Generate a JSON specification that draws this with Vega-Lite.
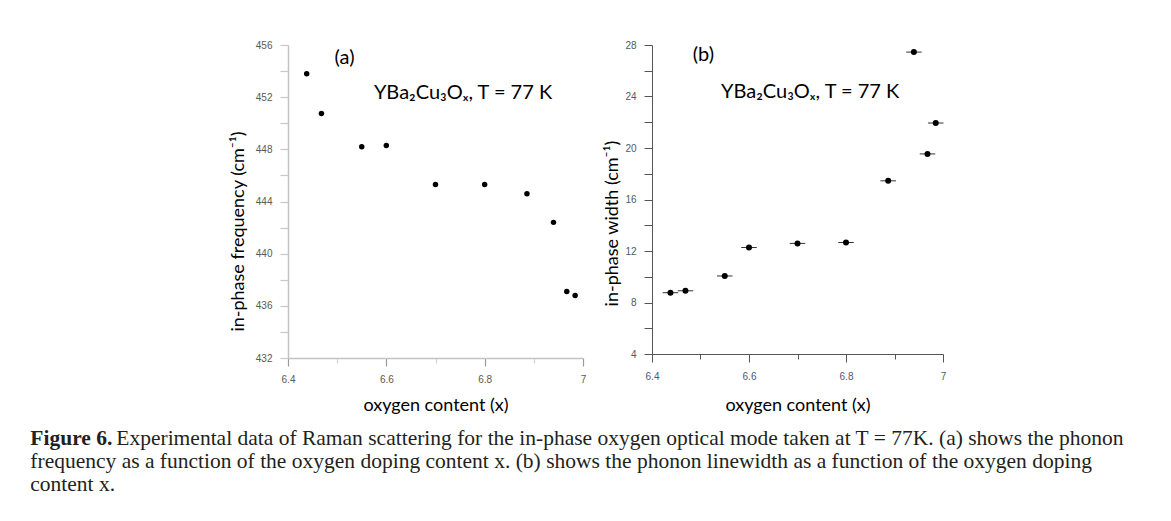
{
  "$schema": "https://vega.github.io/schema/vega-lite/v6.json",
  "background": "white",
  "padding": {"left": 30, "top": 40, "right": 5, "bottom": 5},
  "datasets": {
    "freq": [
      {"x": 6.438, "y": 453.8},
      {"x": 6.468, "y": 450.75},
      {"x": 6.55, "y": 448.2},
      {"x": 6.6, "y": 448.3},
      {"x": 6.7, "y": 445.3},
      {"x": 6.8, "y": 445.3},
      {"x": 6.886, "y": 444.6},
      {"x": 6.94, "y": 442.4},
      {"x": 6.967, "y": 437.1},
      {"x": 6.984, "y": 436.8}
    ],
    "lw": [
      {"x": 6.438, "y": 8.76, "xlo": 6.422, "xhi": 6.454},
      {"x": 6.469, "y": 8.91, "xlo": 6.453, "xhi": 6.485},
      {"x": 6.55, "y": 10.06, "xlo": 6.534, "xhi": 6.566},
      {"x": 6.6, "y": 12.27, "xlo": 6.584, "xhi": 6.616},
      {"x": 6.7, "y": 12.59, "xlo": 6.684, "xhi": 6.716},
      {"x": 6.8, "y": 12.66, "xlo": 6.784, "xhi": 6.816},
      {"x": 6.887, "y": 17.45, "xlo": 6.871, "xhi": 6.903},
      {"x": 6.94, "y": 27.45, "xlo": 6.924, "xhi": 6.956},
      {"x": 6.968, "y": 19.54, "xlo": 6.952, "xhi": 6.984},
      {"x": 6.985, "y": 21.94, "xlo": 6.969, "xhi": 7.001}
    ],
    "annA": [
      {"x": 6.515, "y": 455, "label": "(a)"},
      {"x": 6.756, "y": 452.3, "label": "YBa₂Cu₃Oₓ, T = 77 K"}
    ],
    "annB": [
      {"x": 6.506, "y": 27.2, "label": "(b)"},
      {"x": 6.726, "y": 24.36, "label": "YBa₂Cu₃Oₓ, T = 77 K"}
    ]
  },
  "title": {
    "text": "Figure 6.",
    "subtitle": [
      "\u200b\u00a0\u00a0\u00a0\u00a0\u00a0\u00a0\u00a0\u00a0\u00a0\u00a0\u00a0\u00a0\u00a0\u00a0\u00a0\u00a0Experimental data of Raman scattering for the in-phase oxygen optical mode taken at T = 77K. (a) shows the phonon",
      "frequency as a function of the oxygen doping content x. (b) shows the phonon linewidth as a function of the oxygen doping",
      "content x."
    ],
    "orient": "bottom",
    "anchor": "start",
    "frame": "bounds",
    "dx": -199,
    "offset": 14,
    "font": "Liberation Serif",
    "fontSize": 21.5,
    "fontWeight": "bold",
    "color": "#231f20",
    "subtitleFont": "Liberation Serif",
    "subtitleFontSize": 21.5,
    "subtitleColor": "#231f20",
    "subtitleLineHeight": 23,
    "subtitlePadding": -21.5
  },
  "spacing": 17,
  "hconcat": [
    {
      "width": 295,
      "height": 313,
      "encoding": {
        "x": {
          "field": "x", "type": "quantitative",
          "scale": {"domain": [6.4, 7], "nice": false, "zero": false},
          "axis": {
            "title": "oxygen content (x)",
            "values": [6.4, 6.5, 6.6, 6.7, 6.8, 6.9, 7],
            "labelExpr": "abs(datum.value*5-round(datum.value*5))<0.01 ? format(datum.value,'~g') : ''",
            "tickSize": {"condition": {"test": "abs(datum.value*5-round(datum.value*5))<0.01", "value": 8}, "value": 5},
            "tickColor": {"condition": {"test": "abs(datum.value*5-round(datum.value*5))<0.01", "value": "#9a9a9a"}, "value": "#d2d2d2"},
            "domainColor": "#c4c4c4", "domainWidth": 1.5, "tickWidth": 1.2,
            "labelFont": "Liberation Sans", "labelFontSize": 10, "labelColor": "#5c5a4e",
            "labelPadding": 8, "labelFlush": false, "labelOverlap": false,
            "titleFont": "Lato", "titleFontSize": 18, "titleFontWeight": "normal", "titleColor": "#000",
            "titlePadding": 12, "grid": false
          }
        },
        "y": {
          "field": "y", "type": "quantitative",
          "scale": {"domain": [432, 456], "nice": false, "zero": false},
          "axis": {
            "title": "in-phase frequency (cm⁻¹)",
            "values": [432, 434, 436, 438, 440, 442, 444, 446, 448, 450, 452, 454, 456],
            "labelExpr": "datum.value % 4 == 0 ? format(datum.value,'d') : ''",
            "tickSize": 8, "tickColor": "#c8c8c8", "tickWidth": 1.2,
            "domainColor": "#c4c4c4", "domainWidth": 1.5,
            "labelFont": "Liberation Sans", "labelFontSize": 10, "labelColor": "#5c5a4e",
            "labelPadding": 8, "labelOverlap": false,
            "titleFont": "Lato", "titleFontSize": 18, "titleFontWeight": "normal", "titleColor": "#000",
            "titlePadding": 8, "titleY": 186, "grid": false
          }
        }
      },
      "layer": [
        {
          "data": {"name": "freq"},
          "mark": {"type": "circle", "color": "#000", "opacity": 1, "size": 30}
        },
        {
          "data": {"name": "annA"},
          "mark": {"type": "text", "font": "Lato", "fontSize": 20, "color": "#000"},
          "encoding": {"text": {"field": "label"}}
        }
      ]
    },
    {
      "width": 291,
      "height": 309,
      "encoding": {
        "x": {
          "field": "x", "type": "quantitative",
          "scale": {"domain": [6.4, 7], "nice": false, "zero": false},
          "axis": {
            "title": "oxygen content (x)",
            "values": [6.4, 6.5, 6.6, 6.7, 6.8, 6.9, 7],
            "labelExpr": "abs(datum.value*5-round(datum.value*5))<0.01 ? format(datum.value,'~g') : ''",
            "tickSize": {"condition": {"test": "abs(datum.value*5-round(datum.value*5))<0.01", "value": 8}, "value": 5},
            "tickColor": "#555", "domainColor": "#555", "domainWidth": 1, "tickWidth": 1,
            "labelFont": "Liberation Sans", "labelFontSize": 10, "labelColor": "#4d5a6b",
            "labelPadding": 9, "labelFlush": false, "labelOverlap": false,
            "titleFont": "Lato", "titleFontSize": 18, "titleFontWeight": "normal", "titleColor": "#000",
            "titlePadding": 15, "grid": false
          }
        },
        "y": {
          "field": "y", "type": "quantitative",
          "scale": {"domain": [4, 28], "nice": false, "zero": false},
          "axis": {
            "title": "in-phase width (cm⁻¹)",
            "values": [4, 6, 8, 10, 12, 14, 16, 18, 20, 22, 24, 26, 28],
            "labelExpr": "datum.value % 4 == 0 ? format(datum.value,'d') : ''",
            "tickSize": 8, "tickColor": "#555", "tickWidth": 1,
            "domainColor": "#555", "domainWidth": 1,
            "labelFont": "Liberation Sans", "labelFontSize": 10, "labelColor": "#4d5a6b",
            "labelPadding": 8, "labelOverlap": false,
            "titleFont": "Lato", "titleFontSize": 18, "titleFontWeight": "normal", "titleColor": "#000",
            "titlePadding": 3, "titleY": 178, "grid": false
          }
        }
      },
      "layer": [
        {
          "data": {"name": "lw"},
          "mark": {"type": "rule", "color": "#333", "strokeWidth": 1},
          "encoding": {
            "x": {"field": "xlo", "type": "quantitative", "title": "oxygen content (x)"},
            "x2": {"field": "xhi"}
          }
        },
        {
          "data": {"name": "lw"},
          "mark": {"type": "circle", "color": "#000", "opacity": 1, "size": 36}
        },
        {
          "data": {"name": "annB"},
          "mark": {"type": "text", "font": "Lato", "fontSize": 20, "color": "#000"},
          "encoding": {"text": {"field": "label"}}
        }
      ]
    }
  ],
  "config": {"view": {"stroke": null}}
}
